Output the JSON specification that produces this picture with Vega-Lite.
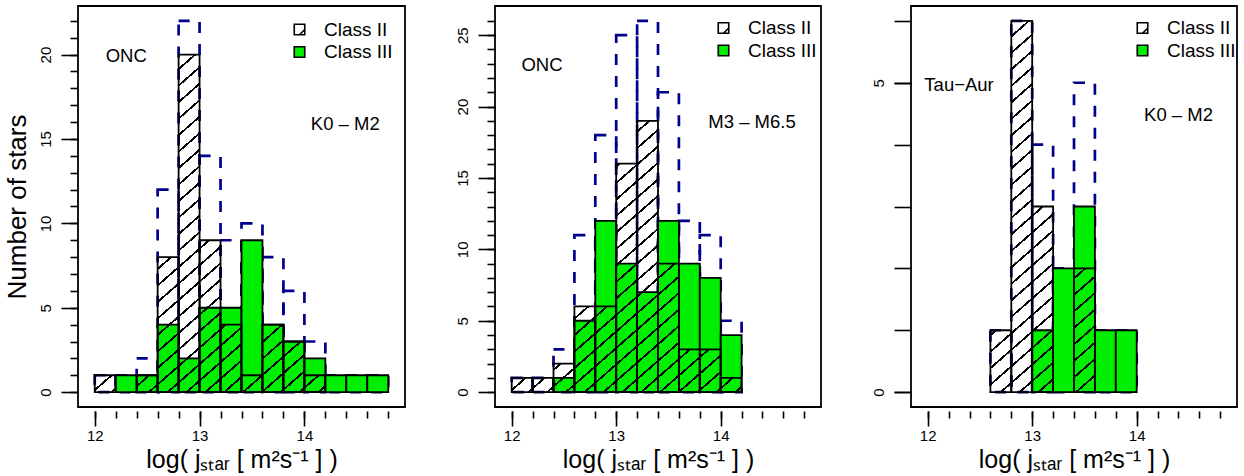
{
 "$schema": "https://vega.github.io/schema/vega-lite/v6.json",
 "background": "white",
 "padding": {"left": 3, "top": 5, "right": 12, "bottom": 0},
 "config": {
  "font": "Liberation Sans",
  "view": {"stroke": "black", "strokeWidth": 1.8},
  "axis": {"grid": false, "domain": false, "labelColor": "black", "tickColor": "black", "tickWidth": 1.6, "titleColor": "black", "titleFontWeight": "normal", "labelFlush": false, "labelOverlap": false, "labelFont": "Liberation Sans", "titleFont": "Liberation Sans"},
  "legend": {"labelFontSize": 19, "labelColor": "black", "labelFont": "Liberation Sans", "symbolStrokeColor": "black", "symbolStrokeWidth": 1.6, "symbolSize": 110, "padding": 0, "rowPadding": 2.5, "labelOffset": 15, "labelLimit": 300},
  "text": {"font": "Liberation Sans", "fontSize": 18.5, "color": "black", "baseline": "middle"}
 },
 "params": [{"name": "hatchStops", "value": [
  {"offset": 0, "color": "rgba(0,0,0,0)"},
  {"offset": 0.0163, "color": "rgba(0,0,0,0)"}, {"offset": 0.0163, "color": "black"}, {"offset": 0.0221, "color": "black"}, {"offset": 0.0221, "color": "rgba(0,0,0,0)"},
  {"offset": 0.0548, "color": "rgba(0,0,0,0)"}, {"offset": 0.0548, "color": "black"}, {"offset": 0.0606, "color": "black"}, {"offset": 0.0606, "color": "rgba(0,0,0,0)"},
  {"offset": 0.0933, "color": "rgba(0,0,0,0)"}, {"offset": 0.0933, "color": "black"}, {"offset": 0.0991, "color": "black"}, {"offset": 0.0991, "color": "rgba(0,0,0,0)"},
  {"offset": 0.1317, "color": "rgba(0,0,0,0)"}, {"offset": 0.1317, "color": "black"}, {"offset": 0.1375, "color": "black"}, {"offset": 0.1375, "color": "rgba(0,0,0,0)"},
  {"offset": 0.1702, "color": "rgba(0,0,0,0)"}, {"offset": 0.1702, "color": "black"}, {"offset": 0.1760, "color": "black"}, {"offset": 0.1760, "color": "rgba(0,0,0,0)"},
  {"offset": 0.2086, "color": "rgba(0,0,0,0)"}, {"offset": 0.2086, "color": "black"}, {"offset": 0.2144, "color": "black"}, {"offset": 0.2144, "color": "rgba(0,0,0,0)"},
  {"offset": 0.2471, "color": "rgba(0,0,0,0)"}, {"offset": 0.2471, "color": "black"}, {"offset": 0.2529, "color": "black"}, {"offset": 0.2529, "color": "rgba(0,0,0,0)"},
  {"offset": 0.2856, "color": "rgba(0,0,0,0)"}, {"offset": 0.2856, "color": "black"}, {"offset": 0.2914, "color": "black"}, {"offset": 0.2914, "color": "rgba(0,0,0,0)"},
  {"offset": 0.3240, "color": "rgba(0,0,0,0)"}, {"offset": 0.3240, "color": "black"}, {"offset": 0.3298, "color": "black"}, {"offset": 0.3298, "color": "rgba(0,0,0,0)"},
  {"offset": 0.3625, "color": "rgba(0,0,0,0)"}, {"offset": 0.3625, "color": "black"}, {"offset": 0.3683, "color": "black"}, {"offset": 0.3683, "color": "rgba(0,0,0,0)"},
  {"offset": 0.4010, "color": "rgba(0,0,0,0)"}, {"offset": 0.4010, "color": "black"}, {"offset": 0.4068, "color": "black"}, {"offset": 0.4068, "color": "rgba(0,0,0,0)"},
  {"offset": 0.4394, "color": "rgba(0,0,0,0)"}, {"offset": 0.4394, "color": "black"}, {"offset": 0.4452, "color": "black"}, {"offset": 0.4452, "color": "rgba(0,0,0,0)"},
  {"offset": 0.4779, "color": "rgba(0,0,0,0)"}, {"offset": 0.4779, "color": "black"}, {"offset": 0.4837, "color": "black"}, {"offset": 0.4837, "color": "rgba(0,0,0,0)"},
  {"offset": 0.5163, "color": "rgba(0,0,0,0)"}, {"offset": 0.5163, "color": "black"}, {"offset": 0.5221, "color": "black"}, {"offset": 0.5221, "color": "rgba(0,0,0,0)"},
  {"offset": 0.5548, "color": "rgba(0,0,0,0)"}, {"offset": 0.5548, "color": "black"}, {"offset": 0.5606, "color": "black"}, {"offset": 0.5606, "color": "rgba(0,0,0,0)"},
  {"offset": 0.5933, "color": "rgba(0,0,0,0)"}, {"offset": 0.5933, "color": "black"}, {"offset": 0.5991, "color": "black"}, {"offset": 0.5991, "color": "rgba(0,0,0,0)"},
  {"offset": 0.6317, "color": "rgba(0,0,0,0)"}, {"offset": 0.6317, "color": "black"}, {"offset": 0.6375, "color": "black"}, {"offset": 0.6375, "color": "rgba(0,0,0,0)"},
  {"offset": 0.6702, "color": "rgba(0,0,0,0)"}, {"offset": 0.6702, "color": "black"}, {"offset": 0.6760, "color": "black"}, {"offset": 0.6760, "color": "rgba(0,0,0,0)"},
  {"offset": 0.7086, "color": "rgba(0,0,0,0)"}, {"offset": 0.7086, "color": "black"}, {"offset": 0.7144, "color": "black"}, {"offset": 0.7144, "color": "rgba(0,0,0,0)"},
  {"offset": 0.7471, "color": "rgba(0,0,0,0)"}, {"offset": 0.7471, "color": "black"}, {"offset": 0.7529, "color": "black"}, {"offset": 0.7529, "color": "rgba(0,0,0,0)"},
  {"offset": 0.7856, "color": "rgba(0,0,0,0)"}, {"offset": 0.7856, "color": "black"}, {"offset": 0.7914, "color": "black"}, {"offset": 0.7914, "color": "rgba(0,0,0,0)"},
  {"offset": 0.8240, "color": "rgba(0,0,0,0)"}, {"offset": 0.8240, "color": "black"}, {"offset": 0.8298, "color": "black"}, {"offset": 0.8298, "color": "rgba(0,0,0,0)"},
  {"offset": 0.8625, "color": "rgba(0,0,0,0)"}, {"offset": 0.8625, "color": "black"}, {"offset": 0.8683, "color": "black"}, {"offset": 0.8683, "color": "rgba(0,0,0,0)"},
  {"offset": 0.9010, "color": "rgba(0,0,0,0)"}, {"offset": 0.9010, "color": "black"}, {"offset": 0.9068, "color": "black"}, {"offset": 0.9068, "color": "rgba(0,0,0,0)"},
  {"offset": 0.9394, "color": "rgba(0,0,0,0)"}, {"offset": 0.9394, "color": "black"}, {"offset": 0.9452, "color": "black"}, {"offset": 0.9452, "color": "rgba(0,0,0,0)"},
  {"offset": 0.9779, "color": "rgba(0,0,0,0)"}, {"offset": 0.9779, "color": "black"}, {"offset": 0.9837, "color": "black"}, {"offset": 0.9837, "color": "rgba(0,0,0,0)"}
 ]}],
 "datasets": {
  "onc_k0m2": [
   {"bin": 12.0, "bin_end": 12.2, "class": "Class II", "count": 1},
   {"bin": 12.2, "bin_end": 12.4, "class": "Class III", "count": 1},
   {"bin": 12.4, "bin_end": 12.6, "class": "Class II", "count": 1},
   {"bin": 12.4, "bin_end": 12.6, "class": "Class III", "count": 1},
   {"bin": 12.6, "bin_end": 12.8, "class": "Class II", "count": 8},
   {"bin": 12.6, "bin_end": 12.8, "class": "Class III", "count": 4},
   {"bin": 12.8, "bin_end": 13.0, "class": "Class II", "count": 20},
   {"bin": 12.8, "bin_end": 13.0, "class": "Class III", "count": 2},
   {"bin": 13.0, "bin_end": 13.2, "class": "Class II", "count": 9},
   {"bin": 13.0, "bin_end": 13.2, "class": "Class III", "count": 5},
   {"bin": 13.2, "bin_end": 13.4, "class": "Class II", "count": 4},
   {"bin": 13.2, "bin_end": 13.4, "class": "Class III", "count": 5},
   {"bin": 13.4, "bin_end": 13.6, "class": "Class II", "count": 1},
   {"bin": 13.4, "bin_end": 13.6, "class": "Class III", "count": 9},
   {"bin": 13.6, "bin_end": 13.8, "class": "Class II", "count": 4},
   {"bin": 13.6, "bin_end": 13.8, "class": "Class III", "count": 4},
   {"bin": 13.8, "bin_end": 14.0, "class": "Class II", "count": 3},
   {"bin": 13.8, "bin_end": 14.0, "class": "Class III", "count": 3},
   {"bin": 14.0, "bin_end": 14.2, "class": "Class II", "count": 1},
   {"bin": 14.0, "bin_end": 14.2, "class": "Class III", "count": 2},
   {"bin": 14.2, "bin_end": 14.4, "class": "Class III", "count": 1},
   {"bin": 14.4, "bin_end": 14.6, "class": "Class III", "count": 1},
   {"bin": 14.6, "bin_end": 14.8, "class": "Class III", "count": 1}
  ],
  "onc_m3m65": [
   {"bin": 12.0, "bin_end": 12.2, "class": "Class II", "count": 1},
   {"bin": 12.2, "bin_end": 12.4, "class": "Class II", "count": 1},
   {"bin": 12.4, "bin_end": 12.6, "class": "Class II", "count": 2},
   {"bin": 12.4, "bin_end": 12.6, "class": "Class III", "count": 1},
   {"bin": 12.6, "bin_end": 12.8, "class": "Class II", "count": 6},
   {"bin": 12.6, "bin_end": 12.8, "class": "Class III", "count": 5},
   {"bin": 12.8, "bin_end": 13.0, "class": "Class II", "count": 6},
   {"bin": 12.8, "bin_end": 13.0, "class": "Class III", "count": 12},
   {"bin": 13.0, "bin_end": 13.2, "class": "Class II", "count": 16},
   {"bin": 13.0, "bin_end": 13.2, "class": "Class III", "count": 9},
   {"bin": 13.2, "bin_end": 13.4, "class": "Class II", "count": 19},
   {"bin": 13.2, "bin_end": 13.4, "class": "Class III", "count": 7},
   {"bin": 13.4, "bin_end": 13.6, "class": "Class II", "count": 9},
   {"bin": 13.4, "bin_end": 13.6, "class": "Class III", "count": 12},
   {"bin": 13.6, "bin_end": 13.8, "class": "Class II", "count": 3},
   {"bin": 13.6, "bin_end": 13.8, "class": "Class III", "count": 9},
   {"bin": 13.8, "bin_end": 14.0, "class": "Class II", "count": 3},
   {"bin": 13.8, "bin_end": 14.0, "class": "Class III", "count": 8},
   {"bin": 14.0, "bin_end": 14.2, "class": "Class II", "count": 1},
   {"bin": 14.0, "bin_end": 14.2, "class": "Class III", "count": 4}
  ],
  "tau_k0m2": [
   {"bin": 12.6, "bin_end": 12.8, "class": "Class II", "count": 1},
   {"bin": 12.8, "bin_end": 13.0, "class": "Class II", "count": 6},
   {"bin": 13.0, "bin_end": 13.2, "class": "Class II", "count": 3},
   {"bin": 13.0, "bin_end": 13.2, "class": "Class III", "count": 1},
   {"bin": 13.2, "bin_end": 13.4, "class": "Class III", "count": 2},
   {"bin": 13.4, "bin_end": 13.6, "class": "Class II", "count": 2},
   {"bin": 13.4, "bin_end": 13.6, "class": "Class III", "count": 3},
   {"bin": 13.6, "bin_end": 13.8, "class": "Class III", "count": 1},
   {"bin": 13.8, "bin_end": 14.0, "class": "Class III", "count": 1}
  ]
 },
 "spacing": 90,
 "bounds": "flush",
 "resolve": {"scale": {"x": "independent", "y": "independent", "fill": "independent"}, "axis": {"x": "independent", "y": "independent"}, "legend": {"fill": "independent"}},
 "hconcat": [
  {
   "width": 327, "height": 401,
   "data": {"name": "onc_k0m2"},
   "resolve": {"axis": {"x": "independent", "y": "independent"}},
   "layer": [
    {
     "mark": {"type": "bar", "fill": "transparent", "stroke": "#00008B", "strokeWidth": 2.7, "strokeDash": [11, 11]},
     "encoding": {
      "x": {"field": "bin", "type": "quantitative", "scale": {"domain": [11.888, 14.912], "nice": false, "zero": false}, "axis": {"orient": "bottom", "values": [12, 12.2, 12.4, 12.6, 12.8, 13, 13.2, 13.4, 13.6, 13.8, 14, 14.2, 14.4, 14.6, 14.8], "tickSize": 7, "offset": 4, "labels": false, "title": null}},
      "x2": {"field": "bin_end"},
      "y": {"aggregate": "sum", "field": "count", "type": "quantitative", "scale": {"domain": [-0.88, 22.88], "nice": false, "zero": false}, "axis": {"orient": "left", "values": [0, 1, 2, 3, 4, 5, 6, 7, 8, 9, 10, 11, 12, 13, 14, 15, 16, 17, 18, 19, 20, 21, 22], "tickSize": 8, "labels": false, "title": null}},
      "y2": {"datum": 0}
     }
    },
    {
     "transform": [{"filter": "datum['class'] === 'Class III'"}],
     "mark": {"type": "bar", "stroke": "black", "strokeWidth": 1.8},
     "encoding": {
      "x": {"field": "bin", "type": "quantitative", "axis": {"orient": "bottom", "values": [12, 13, 14], "format": "d", "tickSize": 15, "offset": 4, "labelFontSize": 15, "labelPadding": 2, "title": "log( jₛₜₐᵣ [ m²s⁻¹ ] )", "titleFontSize": 25, "titlePadding": 4}},
      "x2": {"field": "bin_end"},
      "y": {"field": "count", "type": "quantitative", "axis": {"orient": "left", "values": [0, 5, 10, 15, 20], "format": "d", "tickSize": 17, "labelFontSize": 15, "labelAngle": -90, "labelAlign": "center", "labelBaseline": "bottom", "labelPadding": 8, "title": "Number of stars", "titleFontSize": 26, "titlePadding": 8}},
      "y2": {"datum": 0},
      "fill": {"field": "class", "type": "nominal", "scale": {"domain": ["Class II", "Class III"], "range": ["white", "#00EE00"]}, "legend": {"title": null, "orient": "none", "legendX": 212, "legendY": 14, "symbolType": {"expr": "datum.value === 'Class II' ? 'M-1,-1H1V1H-1ZM0,1L1,0' : 'square'"}}}
     }
    },
    {
     "transform": [{"filter": "datum['class'] === 'Class II'"}],
     "mark": {"type": "bar", "stroke": "black", "strokeWidth": 1.8, "fill": {"expr": "{gradient: 'linear', x1: 0, y1: (((datum.count*16.877 - (datum.bin-11.888)*91.915) % 16.5 + 16.5) % 16.5 - 16.5)/(datum.count*16.877), x2: 7886.3/(337.93 + pow(datum.count*16.877, 2)), y2: (((datum.count*16.877 - (datum.bin-11.888)*91.915) % 16.5 + 16.5) % 16.5 - 16.5)/(datum.count*16.877) + 429*datum.count*16.877/(337.93 + pow(datum.count*16.877, 2)), stops: hatchStops}"}},
     "encoding": {
      "x": {"field": "bin", "type": "quantitative", "axis": null},
      "x2": {"field": "bin_end"},
      "y": {"field": "count", "type": "quantitative", "axis": null},
      "y2": {"datum": 0}
     }
    },
    {
     "data": {"values": [{}]},
     "mark": {"type": "text", "text": "ONC"},
     "encoding": {"x": {"datum": 12.3, "type": "quantitative", "axis": null}, "y": {"datum": 19.9, "type": "quantitative", "axis": null}}
    },
    {
     "data": {"values": [{}]},
     "mark": {"type": "text", "text": "K0 – M2"},
     "encoding": {"x": {"datum": 14.39, "type": "quantitative", "axis": null}, "y": {"datum": 15.9, "type": "quantitative", "axis": null}}
    }
   ]
  },
  {
   "width": 326, "height": 401,
   "data": {"name": "onc_m3m65"},
   "resolve": {"axis": {"x": "independent", "y": "independent"}},
   "layer": [
    {
     "mark": {"type": "bar", "fill": "transparent", "stroke": "#00008B", "strokeWidth": 2.7, "strokeDash": [11, 11]},
     "encoding": {
      "x": {"field": "bin", "type": "quantitative", "scale": {"domain": [11.888, 14.912], "nice": false, "zero": false}, "axis": {"orient": "bottom", "values": [12, 12.2, 12.4, 12.6, 12.8, 13, 13.2, 13.4, 13.6, 13.8, 14, 14.2, 14.4, 14.6, 14.8], "tickSize": 7, "offset": 4, "labels": false, "title": null}},
      "x2": {"field": "bin_end"},
      "y": {"aggregate": "sum", "field": "count", "type": "quantitative", "scale": {"domain": [-1.04, 27.04], "nice": false, "zero": false}, "axis": {"orient": "left", "values": [0, 1, 2, 3, 4, 5, 6, 7, 8, 9, 10, 11, 12, 13, 14, 15, 16, 17, 18, 19, 20, 21, 22, 23, 24, 25, 26], "tickSize": 8, "labels": false, "title": null}},
      "y2": {"datum": 0}
     }
    },
    {
     "transform": [{"filter": "datum['class'] === 'Class III'"}],
     "mark": {"type": "bar", "stroke": "black", "strokeWidth": 1.8},
     "encoding": {
      "x": {"field": "bin", "type": "quantitative", "axis": {"orient": "bottom", "values": [12, 13, 14], "format": "d", "tickSize": 15, "offset": 4, "labelFontSize": 15, "labelPadding": 2, "title": "log( jₛₜₐᵣ [ m²s⁻¹ ] )", "titleFontSize": 25, "titlePadding": 4}},
      "x2": {"field": "bin_end"},
      "y": {"field": "count", "type": "quantitative", "axis": {"orient": "left", "values": [0, 5, 10, 15, 20, 25], "format": "d", "tickSize": 17, "labelFontSize": 15, "labelAngle": -90, "labelAlign": "center", "labelBaseline": "bottom", "labelPadding": 8, "title": null}},
      "y2": {"datum": 0},
      "fill": {"field": "class", "type": "nominal", "scale": {"domain": ["Class II", "Class III"], "range": ["white", "#00EE00"]}, "legend": {"title": null, "orient": "none", "legendX": 219, "legendY": 12.5, "symbolType": {"expr": "datum.value === 'Class II' ? 'M-1,-1H1V1H-1ZM0,1L1,0' : 'square'"}}}
     }
    },
    {
     "transform": [{"filter": "datum['class'] === 'Class II'"}],
     "mark": {"type": "bar", "stroke": "black", "strokeWidth": 1.8, "fill": {"expr": "{gradient: 'linear', x1: 0, y1: (((datum.count*14.2806 - (datum.bin-11.888)*91.633) % 16.5 + 16.5) % 16.5 - 16.5)/(datum.count*14.2806), x2: 7862.3/(335.88 + pow(datum.count*14.2806, 2)), y2: (((datum.count*14.2806 - (datum.bin-11.888)*91.633) % 16.5 + 16.5) % 16.5 - 16.5)/(datum.count*14.2806) + 429*datum.count*14.2806/(335.88 + pow(datum.count*14.2806, 2)), stops: hatchStops}"}},
     "encoding": {
      "x": {"field": "bin", "type": "quantitative", "axis": null},
      "x2": {"field": "bin_end"},
      "y": {"field": "count", "type": "quantitative", "axis": null},
      "y2": {"datum": 0}
     }
    },
    {
     "data": {"values": [{}]},
     "mark": {"type": "text", "text": "ONC"},
     "encoding": {"x": {"datum": 12.29, "type": "quantitative", "axis": null}, "y": {"datum": 22.9, "type": "quantitative", "axis": null}}
    },
    {
     "data": {"values": [{}]},
     "mark": {"type": "text", "text": "M3 – M6.5"},
     "encoding": {"x": {"datum": 14.3, "type": "quantitative", "axis": null}, "y": {"datum": 18.9, "type": "quantitative", "axis": null}}
    }
   ]
  },
  {
   "width": 326, "height": 401,
   "data": {"name": "tau_k0m2"},
   "resolve": {"axis": {"x": "independent", "y": "independent"}},
   "layer": [
    {
     "mark": {"type": "bar", "fill": "transparent", "stroke": "#00008B", "strokeWidth": 2.7, "strokeDash": [11, 11]},
     "encoding": {
      "x": {"field": "bin", "type": "quantitative", "scale": {"domain": [11.888, 14.912], "nice": false, "zero": false}, "axis": {"orient": "bottom", "values": [12, 12.2, 12.4, 12.6, 12.8, 13, 13.2, 13.4, 13.6, 13.8, 14, 14.2, 14.4, 14.6, 14.8], "tickSize": 7, "offset": 4, "labels": false, "title": null}},
      "x2": {"field": "bin_end"},
      "y": {"aggregate": "sum", "field": "count", "type": "quantitative", "scale": {"domain": [-0.24, 6.24], "nice": false, "zero": false}, "axis": {"orient": "left", "values": [0, 1, 2, 3, 4, 5, 6], "tickSize": 17, "labels": false, "title": null}},
      "y2": {"datum": 0}
     }
    },
    {
     "transform": [{"filter": "datum['class'] === 'Class III'"}],
     "mark": {"type": "bar", "stroke": "black", "strokeWidth": 1.8},
     "encoding": {
      "x": {"field": "bin", "type": "quantitative", "axis": {"orient": "bottom", "values": [12, 13, 14], "format": "d", "tickSize": 15, "offset": 4, "labelFontSize": 15, "labelPadding": 2, "title": "log( jₛₜₐᵣ [ m²s⁻¹ ] )", "titleFontSize": 25, "titlePadding": 4}},
      "x2": {"field": "bin_end"},
      "y": {"field": "count", "type": "quantitative", "axis": {"orient": "left", "values": [0, 5], "format": "d", "tickSize": 17, "labelFontSize": 15, "labelAngle": -90, "labelAlign": "center", "labelBaseline": "bottom", "labelPadding": 8, "title": null}},
      "y2": {"datum": 0},
      "fill": {"field": "class", "type": "nominal", "scale": {"domain": ["Class II", "Class III"], "range": ["white", "#00EE00"]}, "legend": {"title": null, "orient": "none", "legendX": 222, "legendY": 12.5, "symbolType": {"expr": "datum.value === 'Class II' ? 'M-1,-1H1V1H-1ZM0,1L1,0' : 'square'"}}}
     }
    },
    {
     "transform": [{"filter": "datum['class'] === 'Class II'"}],
     "mark": {"type": "bar", "stroke": "black", "strokeWidth": 1.8, "fill": {"expr": "{gradient: 'linear', x1: 0, y1: (((datum.count*61.883 - (datum.bin-11.888)*91.633) % 16.5 + 16.5) % 16.5 - 16.5)/(datum.count*61.883), x2: 7862.3/(335.88 + pow(datum.count*61.883, 2)), y2: (((datum.count*61.883 - (datum.bin-11.888)*91.633) % 16.5 + 16.5) % 16.5 - 16.5)/(datum.count*61.883) + 429*datum.count*61.883/(335.88 + pow(datum.count*61.883, 2)), stops: hatchStops}"}},
     "encoding": {
      "x": {"field": "bin", "type": "quantitative", "axis": null},
      "x2": {"field": "bin_end"},
      "y": {"field": "count", "type": "quantitative", "axis": null},
      "y2": {"datum": 0}
     }
    },
    {
     "data": {"values": [{}]},
     "mark": {"type": "text", "text": "Tau−Aur"},
     "encoding": {"x": {"datum": 12.3, "type": "quantitative", "axis": null}, "y": {"datum": 4.97, "type": "quantitative", "axis": null}}
    },
    {
     "data": {"values": [{}]},
     "mark": {"type": "text", "text": "K0 – M2"},
     "encoding": {"x": {"datum": 14.4, "type": "quantitative", "axis": null}, "y": {"datum": 4.48, "type": "quantitative", "axis": null}}
    }
   ]
  }
 ]
}
